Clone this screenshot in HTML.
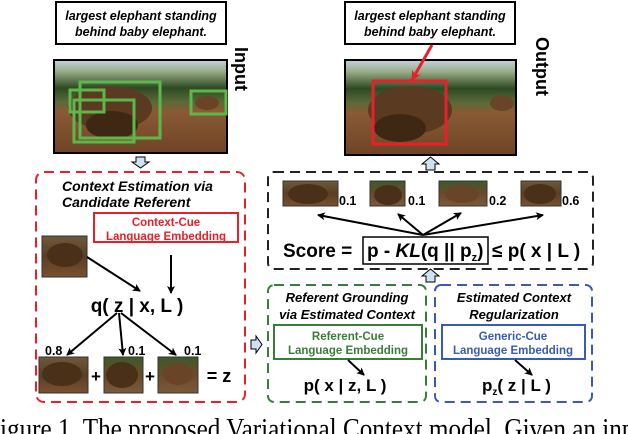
<!DOCTYPE html>
<html><head><meta charset="utf-8"><style>body{margin:0;background:#fff}svg{display:block}</style></head><body>
<svg width="628" height="434" viewBox="0 0 628 434" xmlns="http://www.w3.org/2000/svg" font-family="Liberation Sans, sans-serif">
<defs>
<marker id="ah" markerWidth="8" markerHeight="8" refX="7" refY="4" orient="auto" markerUnits="userSpaceOnUse"><path d="M0,0 L8,4 L0,8 L2,4 z" fill="#000"/></marker>
<marker id="ahr" markerWidth="10" markerHeight="10" refX="9" refY="5" orient="auto" markerUnits="userSpaceOnUse"><path d="M0,0 L10,5 L0,10 L3,5 z" fill="#e8202a"/></marker>
<linearGradient id="scene" x1="0" y1="0" x2="0" y2="1">
<stop offset="0" stop-color="#c4d2e0"/><stop offset="0.12" stop-color="#9aae8a"/><stop offset="0.3" stop-color="#2e4a22"/><stop offset="0.45" stop-color="#5a6a38"/><stop offset="0.55" stop-color="#8a5a34"/><stop offset="1" stop-color="#6e4426"/></linearGradient>
<linearGradient id="thumb" x1="0" y1="0" x2="0" y2="1"><stop offset="0" stop-color="#6e5a3a"/><stop offset="0.5" stop-color="#5a3e24"/><stop offset="1" stop-color="#7a5030"/></linearGradient>
<linearGradient id="thumbg" x1="0" y1="0" x2="0" y2="1"><stop offset="0" stop-color="#3e5a2a"/><stop offset="0.5" stop-color="#6a4a2a"/><stop offset="1" stop-color="#7a5a3a"/></linearGradient>
</defs>

<rect x="56" y="2" width="170" height="42" fill="#fff" stroke="#000" stroke-width="2"/>
<text x="141" y="20" text-anchor="middle" font-size="12.5" font-weight="bold" font-style="italic">largest elephant standing</text>
<text x="141" y="36" text-anchor="middle" font-size="12.5" font-weight="bold" font-style="italic">behind baby elephant.</text>

<rect x="54" y="60" width="173" height="93" fill="url(#scene)" stroke="#000" stroke-width="2"/>
<ellipse cx="110" cy="108" rx="42" ry="22" fill="#5a3a20"/>
<ellipse cx="112" cy="125" rx="26" ry="14" fill="#3e2814"/>
<ellipse cx="207" cy="103" rx="12" ry="7" fill="#6a4426"/>
<g fill="none" stroke="#5cb84a" stroke-width="3">
<rect x="80" y="82" width="80" height="56"/>
<rect x="70" y="90" width="34" height="22"/>
<rect x="74" y="100" width="60" height="42"/>
<rect x="191" y="91" width="35" height="23"/>
</g>
<text transform="translate(235,47) rotate(90)" font-size="18" font-weight="bold">Input</text>

<rect x="345" y="2" width="170" height="42" fill="#fff" stroke="#000" stroke-width="2"/>
<text x="430" y="20" text-anchor="middle" font-size="12.5" font-weight="bold" font-style="italic">largest elephant standing</text>
<text x="430" y="36" text-anchor="middle" font-size="12.5" font-weight="bold" font-style="italic">behind baby elephant.</text>
<rect x="345" y="60" width="171" height="95" fill="url(#scene)" stroke="#000" stroke-width="2"/>
<ellipse cx="410" cy="110" rx="42" ry="24" fill="#5a3a20"/>
<ellipse cx="400" cy="128" rx="26" ry="14" fill="#3e2814"/>
<ellipse cx="502" cy="103" rx="12" ry="8" fill="#6a4426"/>
<rect x="373" y="81" width="73" height="63" fill="none" stroke="#e8202a" stroke-width="3"/>
<line x1="432" y1="45" x2="412" y2="80" stroke="#e8202a" stroke-width="3" marker-end="url(#ahr)"/>
<text transform="translate(536,37) rotate(90)" font-size="18" font-weight="bold">Output</text>

<g fill="#cfe2f3" stroke="#000" stroke-width="1">
<path d="M136,157 L145,157 L145,162 L149,162 L140.5,168 L132,162 L136,162 z"/>
<path d="M426,170 L435,170 L435,164 L439,164 L430.5,157 L422,164 L426,164 z"/>
<path d="M426,282 L435,282 L435,276 L439,276 L430.5,269 L422,276 L426,276 z"/>
<path d="M251,340 L256,340 L256,336 L262,344.5 L256,353 L256,349 L251,349 z"/>
</g>

<rect x="36" y="172" width="209" height="230" rx="8" fill="none" stroke="#e8202a" stroke-width="2" stroke-dasharray="10,6"/>
<text x="62" y="191" font-size="14" font-weight="bold" font-style="italic">Context Estimation via</text>
<text x="62" y="207" font-size="14" font-weight="bold" font-style="italic">Candidate Referent</text>
<rect x="94" y="213" width="144" height="29" fill="none" stroke="#e8202a" stroke-width="2"/>
<text x="166" y="226" text-anchor="middle" font-size="11.5" font-weight="bold" fill="#e8202a">Context-Cue</text>
<text x="166" y="240" text-anchor="middle" font-size="11.5" font-weight="bold" fill="#e8202a">Language Embedding</text>
<rect x="42" y="236" width="45" height="41" fill="url(#thumb)" stroke="#333"/>
<ellipse cx="65" cy="255" rx="18" ry="12" fill="#4a3018"/>
<line x1="87" y1="257" x2="140" y2="291" stroke="#000" stroke-width="2" marker-end="url(#ah)"/>
<line x1="171" y1="255" x2="171" y2="293" stroke="#000" stroke-width="2" marker-end="url(#ah)"/>
<text x="137" y="312" text-anchor="middle" font-size="19" font-weight="bold">q( z | x, L )</text>
<line x1="117" y1="313" x2="67" y2="355" stroke="#000" stroke-width="2" marker-end="url(#ah)"/>
<line x1="119" y1="313" x2="123" y2="355" stroke="#000" stroke-width="2" marker-end="url(#ah)"/>
<line x1="121" y1="313" x2="176" y2="355" stroke="#000" stroke-width="2" marker-end="url(#ah)"/>
<text x="45" y="355" font-size="12.5" font-weight="bold">0.8</text>
<text x="128" y="355" font-size="12.5" font-weight="bold">0.1</text>
<text x="184" y="355" font-size="12.5" font-weight="bold">0.1</text>
<rect x="39" y="357" width="49" height="36" fill="url(#thumb)" stroke="#333"/>
<ellipse cx="62" cy="374" rx="20" ry="12" fill="#4a3018"/>
<rect x="104" y="357" width="39" height="36" fill="url(#thumbg)" stroke="#333"/>
<ellipse cx="122" cy="375" rx="16" ry="13" fill="#4a3018"/>
<rect x="158" y="357" width="40" height="36" fill="url(#thumbg)" stroke="#333"/>
<ellipse cx="178" cy="374" rx="15" ry="11" fill="#6a4426"/>
<text x="96" y="382" text-anchor="middle" font-size="17" font-weight="bold">+</text>
<text x="150" y="382" text-anchor="middle" font-size="17" font-weight="bold">+</text>
<text x="219" y="382" text-anchor="middle" font-size="18" font-weight="bold">= z</text>

<rect x="268" y="172" width="325" height="97" rx="6" fill="none" stroke="#222" stroke-width="2" stroke-dasharray="10,6"/>
<rect x="283" y="181" width="55" height="25" fill="url(#thumb)" stroke="#333"/>
<ellipse cx="308" cy="194" rx="20" ry="10" fill="#4a3018"/>
<rect x="370" y="181" width="35" height="25" fill="url(#thumbg)" stroke="#333"/>
<ellipse cx="388" cy="195" rx="14" ry="10" fill="#4a3018"/>
<rect x="439" y="181" width="48" height="25" fill="url(#thumbg)" stroke="#333"/>
<ellipse cx="462" cy="194" rx="17" ry="9" fill="#6a4426"/>
<rect x="521" y="181" width="40" height="25" fill="url(#thumb)" stroke="#333"/>
<ellipse cx="540" cy="194" rx="16" ry="10" fill="#4a3018"/>
<text x="339" y="205" font-size="12.5" font-weight="bold">0.1</text>
<text x="408" y="205" font-size="12.5" font-weight="bold">0.1</text>
<text x="489" y="205" font-size="12.5" font-weight="bold">0.2</text>
<text x="562" y="205" font-size="12.5" font-weight="bold">0.6</text>
<g stroke="#000" stroke-width="2" marker-end="url(#ah)">
<line x1="423" y1="235" x2="318" y2="215"/>
<line x1="423" y1="235" x2="398" y2="214"/>
<line x1="423" y1="235" x2="461" y2="213"/>
<line x1="423" y1="235" x2="543" y2="215"/>
</g>
<text x="283" y="257" font-size="19" font-weight="bold">Score =</text>
<rect x="363" y="237" width="125" height="27" fill="#fff" stroke="#000" stroke-width="1.5"/>
<text x="367" y="257" font-size="19" font-weight="bold">p - <tspan font-style="italic">KL</tspan>(q || p<tspan font-size="11" dy="4">z</tspan><tspan dy="-4">)</tspan></text>
<text x="492" y="257" font-size="19" font-weight="bold">≤ p( x | L )</text>

<rect x="268" y="285" width="158" height="117" rx="6" fill="none" stroke="#3a7d3a" stroke-width="2" stroke-dasharray="10,6"/>
<text x="347" y="302" text-anchor="middle" font-size="13" font-weight="bold" font-style="italic">Referent Grounding</text>
<text x="347" y="319" text-anchor="middle" font-size="13" font-weight="bold" font-style="italic">via Estimated Context</text>
<rect x="274" y="325" width="148" height="34" fill="none" stroke="#3a7d3a" stroke-width="2"/>
<text x="348" y="340" text-anchor="middle" font-size="11.5" font-weight="bold" fill="#3a7d3a">Referent-Cue</text>
<text x="348" y="354" text-anchor="middle" font-size="11.5" font-weight="bold" fill="#3a7d3a">Language Embedding</text>
<line x1="348" y1="360" x2="364" y2="375" stroke="#000" stroke-width="2" marker-end="url(#ah)"/>
<text x="345" y="391" text-anchor="middle" font-size="17" font-weight="bold">p( x | z, L )</text>

<rect x="435" y="285" width="157" height="117" rx="6" fill="none" stroke="#3a5cb0" stroke-width="2" stroke-dasharray="10,6"/>
<text x="514" y="302" text-anchor="middle" font-size="13" font-weight="bold" font-style="italic">Estimated Context</text>
<text x="514" y="319" text-anchor="middle" font-size="13" font-weight="bold" font-style="italic">Regularization</text>
<rect x="442" y="325" width="143" height="34" fill="none" stroke="#3a5cb0" stroke-width="2"/>
<text x="513" y="340" text-anchor="middle" font-size="11.5" font-weight="bold" fill="#3a5cb0">Generic-Cue</text>
<text x="513" y="354" text-anchor="middle" font-size="11.5" font-weight="bold" fill="#3a5cb0">Language Embedding</text>
<line x1="515" y1="360" x2="532" y2="375" stroke="#000" stroke-width="2" marker-end="url(#ah)"/>
<text x="482" y="391" font-size="17" font-weight="bold">p<tspan font-size="10" dy="4">z</tspan><tspan dy="-4">( z | L )</tspan></text>

<text x="-14" y="438" font-family="Liberation Serif, serif" font-size="28" textLength="668" lengthAdjust="spacingAndGlyphs">Figure 1. The proposed Variational Context model. Given an input</text>
</svg>
</body></html>
